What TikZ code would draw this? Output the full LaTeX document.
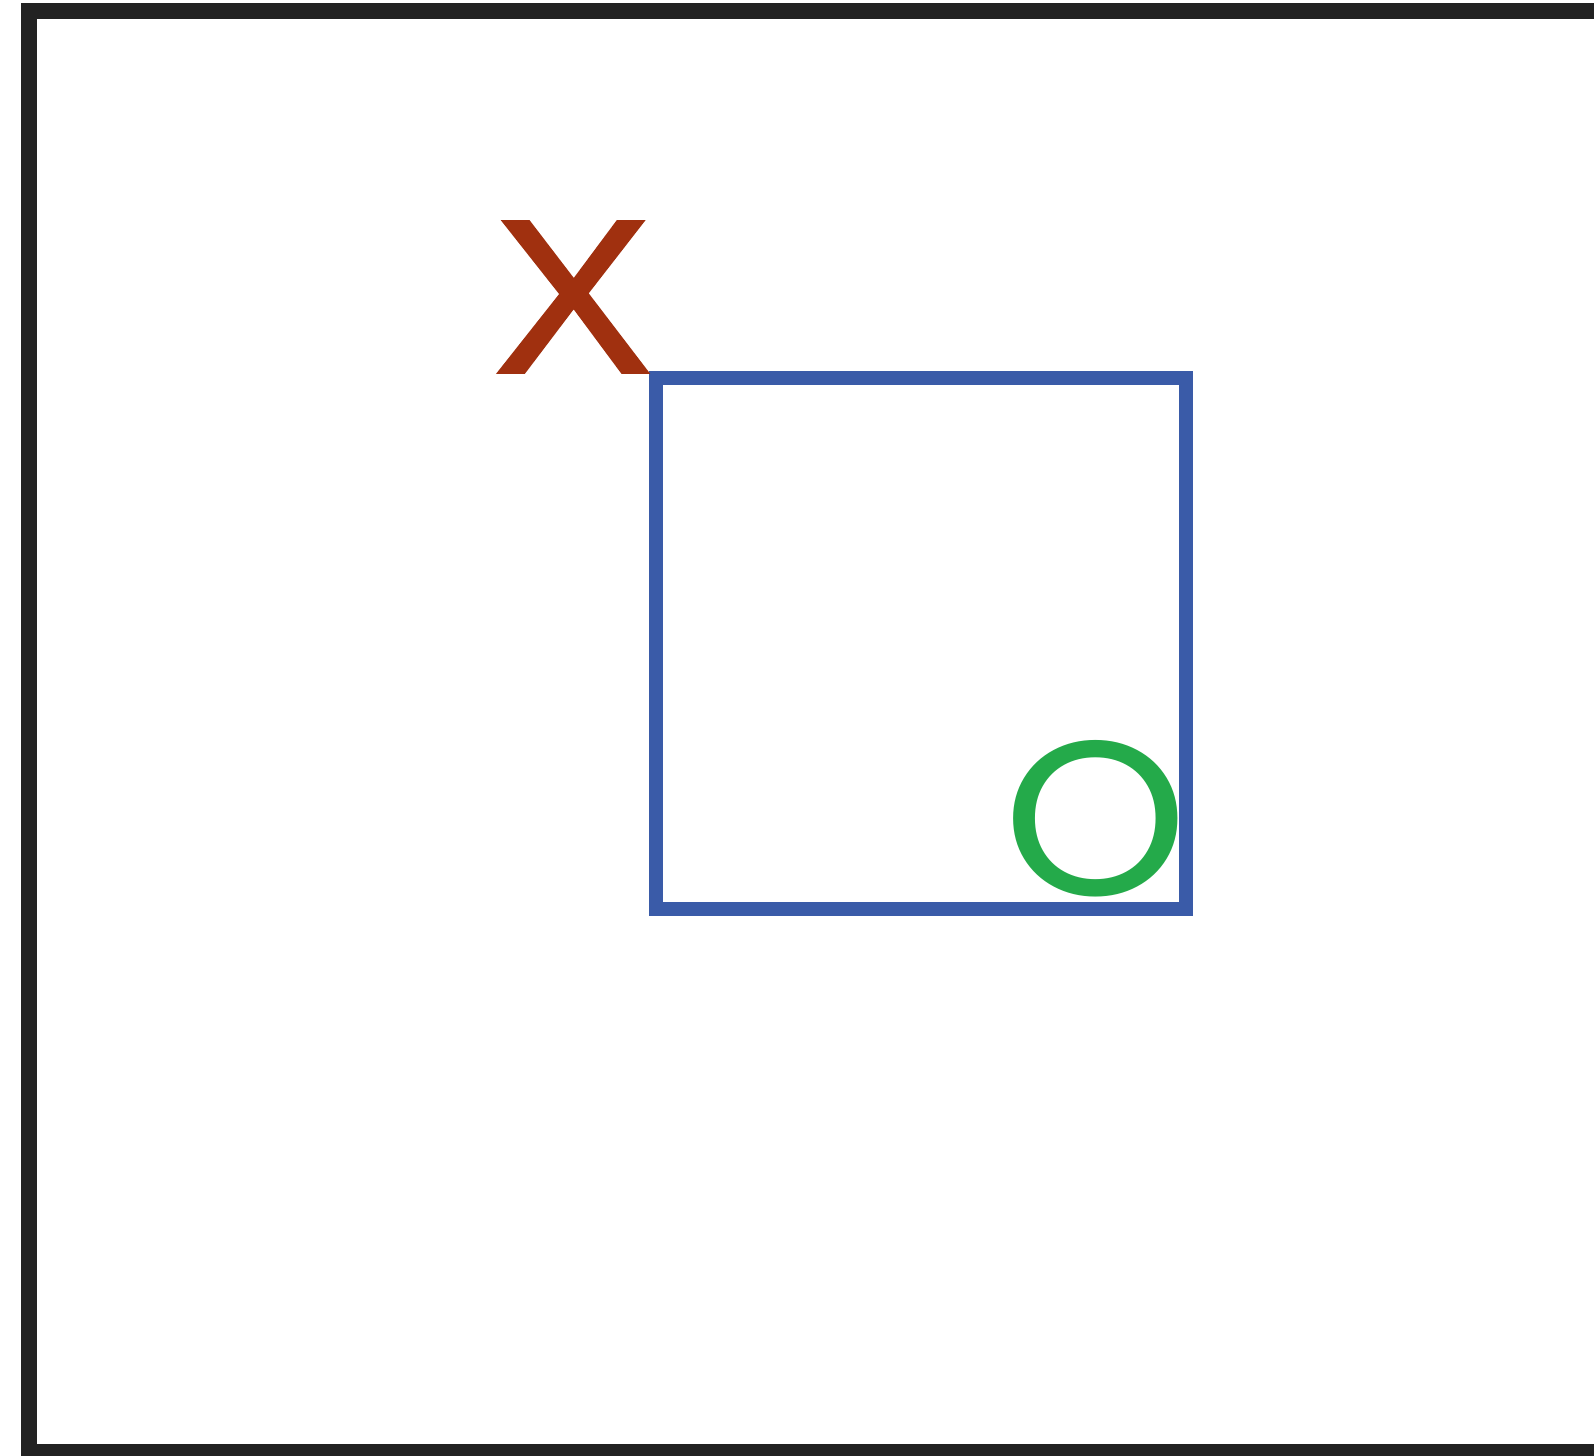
\documentclass[tikz,border=0pt]{standalone}
\usepackage{fontspec}
\newfontfamily\xfont[FakeBold=1.5]{Liberation Sans}
\newfontfamily\ofont{Poppins}
\definecolor{framecol}{HTML}{222222}
\definecolor{boxblue}{HTML}{3A5BA8}
\definecolor{xred}{HTML}{A0300F}
\definecolor{ogreen}{HTML}{24AA4A}
\tikzset{
  mark text/.style={inner sep=0pt, outer sep=0pt},
}
\begin{document}
\begin{tikzpicture}[x=1pt,y=-1pt]
  \useasboundingbox (0,0) rectangle (1594,1455);
  \clip (0,0) rectangle (1594,1455);
  \fill[white] (0,0) rectangle (1594,1455);
  % outer frame
  \draw[framecol, line width=16pt, line join=miter] (1640,11) -- (29,11) -- (29,1452) -- (1640,1452);
  % blue square
  \draw[boxblue, line width=14pt, line join=miter] (655.7,378) rectangle (1186.4,908.8);
  % labels
  \node[mark text, text=xred, font=\xfont\fontsize{219pt}{219pt}\selectfont, xscale=1.08] (xmark) at (573,297) {X};
  \node[mark text, text=ogreen, font=\ofont\fontsize{220pt}{220pt}\selectfont, xscale=1.067] (omark) at (1096,818.7) {O};
\end{tikzpicture}
\end{document}
